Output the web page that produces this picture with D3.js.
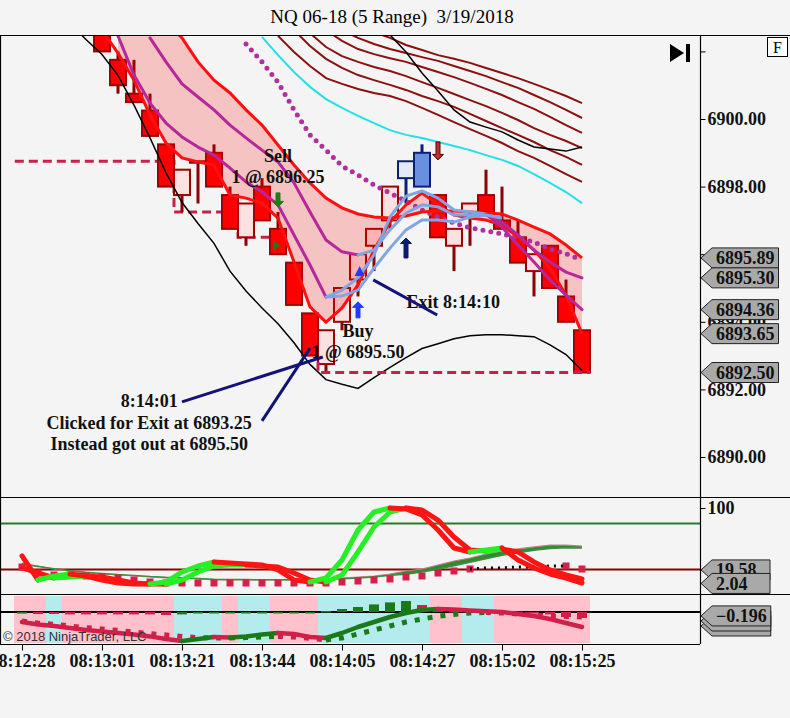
<!DOCTYPE html>
<html>
<head>
<meta charset="utf-8">
<script src="https://cdn.jsdelivr.net/npm/d3@7"></script>
<style>
  body { margin: 0; background: #f4f4f4; }
  svg { display: block; font-family: "Liberation Serif", "Times New Roman", serif; }
</style>
</head>
<body>
<svg id="chart" width="790" height="718"></svg>
<script>
// ---- data (bar index 0..35, prices in points) ----
const timeTicks = [0, 5, 10, 15, 20, 25, 30, 35];
const timeLabels = ['08:12:28', '08:13:01', '08:13:21', '08:13:44', '08:14:05', '08:14:27', '08:15:02', '08:15:25'];
const priceTicks = [6890, 6892, 6894, 6896, 6898, 6900, 6902];
const priceTickLabels = ['6890.00', '6892.00', '6894.00', '', '6898.00', '6900.00', ''];

// range bars, first visible bar is index 5
const candleStart = 5;
const opens  = [6902.75, 6901.75, 6900.75, 6900.25, 6899.25, 6897.75, 6898.75, 6899.00, 6897.75, 6896.50, 6898.00, 6896.75, 6895.75, 6894.25, 6892.75, 6894.00, 6895.25, 6896.25, 6897.00, 6898.25, 6898.00, 6897.75, 6896.25, 6897.25, 6897.75, 6897.00, 6896.50, 6895.50, 6896.25, 6894.75, 6893.75];
const highs  = [6903.25, 6902.00, 6901.75, 6900.75, 6899.25, 6898.50, 6898.75, 6899.25, 6898.00, 6897.50, 6898.25, 6897.25, 6895.75, 6894.25, 6893.75, 6895.00, 6896.00, 6896.75, 6898.00, 6898.75, 6899.25, 6897.75, 6896.75, 6897.50, 6898.50, 6898.00, 6897.00, 6896.00, 6896.25, 6895.25, 6893.75];
const lows   = [6902.00, 6900.75, 6900.50, 6899.50, 6898.00, 6897.25, 6897.50, 6898.00, 6896.75, 6896.25, 6897.00, 6896.00, 6894.50, 6893.00, 6892.50, 6893.75, 6894.75, 6895.50, 6896.75, 6897.50, 6898.00, 6896.50, 6895.50, 6896.25, 6897.25, 6896.75, 6895.75, 6894.75, 6895.00, 6894.00, 6892.50];
const closes = [6902.00, 6901.00, 6900.50, 6899.50, 6898.00, 6898.50, 6898.75, 6898.00, 6896.75, 6897.50, 6897.00, 6896.00, 6894.50, 6893.00, 6893.75, 6895.00, 6896.00, 6896.75, 6898.00, 6898.75, 6899.00, 6896.50, 6896.75, 6897.50, 6897.25, 6896.75, 6895.75, 6896.00, 6895.00, 6894.00, 6892.50];
const blueHollowBars = [24];
const blueFilledBars = [25];

// channel (red lines, pink fill)
const upperRedStart = 6;
const upperRed = [6904.5, 6903.9, 6903.4, 6902.87, 6902.40, 6901.69, 6901.15, 6900.77, 6900.27, 6899.82, 6899.23, 6898.64, 6898.11, 6897.66, 6897.37, 6897.19, 6897.10, 6897.07, 6897.13, 6897.25, 6897.28, 6897.28, 6897.25, 6897.22, 6897.19, 6897.01, 6896.80, 6896.60, 6896.27, 6895.89];
const lowerRedStart = 5;
const lowerRed = [6902.63, 6901.95, 6901.15, 6900.12, 6899.29, 6898.85, 6898.73, 6898.64, 6897.75, 6897.66, 6897.51, 6897.07, 6895.77, 6894.44, 6893.99, 6894.41, 6895.09, 6896.12, 6896.95, 6897.46, 6897.81, 6897.46, 6897.16, 6897.07, 6897.01, 6896.86, 6896.51, 6896.12, 6895.59, 6894.79, 6893.65];

// moving averages (1 = light blue segment, 0 = magenta segment)
const ma1Start = 6;
const ma1 = [6902.46, 6901.30, 6900.47, 6899.88, 6899.47, 6899.17, 6898.93, 6898.55, 6898.14, 6897.84, 6897.46, 6896.57, 6895.68, 6894.73, 6894.94, 6895.30, 6895.98, 6897.10, 6897.72, 6897.87, 6897.66, 6897.31, 6897.25, 6897.19, 6896.80, 6896.27, 6895.77, 6895.24, 6894.79, 6894.36];
const ma1Blue = [0,0,0,0,0,0,0,0,0,0,0,0,0,0, 1,1,1,1,1,1,1,1,1,1, 0,0,0,0,0,0];
const ma2Start = 8;
const ma2 = [6902.40, 6901.69, 6901.04, 6900.65, 6900.27, 6899.82, 6899.44, 6899.08, 6898.73, 6898.11, 6897.25, 6896.42, 6896.07, 6895.98, 6896.12, 6896.72, 6897.22, 6897.46, 6897.40, 6897.16, 6897.16, 6897.16, 6896.95, 6896.57, 6896.12, 6895.77, 6895.47, 6895.30];
const ma2Blue = [0,0,0,0,0,0,0,0,0,0,0,0,0,0, 1,1,1,1,1,1,1,1, 0,0,0,0,0,0];
const ma3Start = 19;
const ma3 = [6894.73, 6894.76, 6894.94, 6895.59, 6896.18, 6896.72, 6897.01, 6897.01, 6896.95, 6897.10, 6897.16, 6897.07];
const dottedStart = 14;
const dottedMa = [6902.22, 6901.69, 6901.09, 6900.27, 6899.53, 6899.08, 6898.61, 6898.34, 6898.05, 6897.81, 6897.57, 6897.31, 6897.10, 6896.92, 6896.78, 6896.69, 6896.60, 6896.48, 6896.36, 6896.15, 6896.01, 6895.83];
const cyanStart = 15;
const cyanLine = [6902.43, 6901.89, 6901.39, 6900.95, 6900.59, 6900.33, 6900.09, 6899.88, 6899.67, 6899.53, 6899.44, 6899.32, 6899.20, 6899.08, 6898.93, 6898.79, 6898.61, 6898.37, 6898.11, 6897.84, 6897.51];

// dark red envelope lines, lowest first
const envStarts = [16, 17, 18, 19, 20, 22];
const envF = [6902.46, 6901.98, 6901.57, 6901.21, 6901.04, 6900.89, 6900.77, 6900.68, 6900.53, 6900.33, 6900.12, 6899.91, 6899.70, 6899.50, 6899.29, 6899.05, 6898.85, 6898.61, 6898.37, 6898.14];
const envE = [6902.63, 6902.16, 6901.78, 6901.51, 6901.30, 6901.15, 6901.01, 6900.86, 6900.68, 6900.53, 6900.36, 6900.15, 6899.94, 6899.73, 6899.53, 6899.32, 6899.08, 6898.88, 6898.64];
const envD = [6902.54, 6902.13, 6901.86, 6901.69, 6901.54, 6901.42, 6901.27, 6901.09, 6900.92, 6900.74, 6900.56, 6900.38, 6900.18, 6899.97, 6899.73, 6899.53, 6899.35, 6899.14];
const envC = [6902.63, 6902.31, 6902.07, 6901.92, 6901.80, 6901.69, 6901.54, 6901.39, 6901.24, 6901.07, 6900.89, 6900.71, 6900.50, 6900.30, 6900.06, 6899.82, 6899.59];
const envB = [6902.63, 6902.40, 6902.22, 6902.07, 6901.95, 6901.83, 6901.72, 6901.57, 6901.42, 6901.27, 6901.09, 6900.92, 6900.71, 6900.50, 6900.27, 6900.03];
const envA = [6902.57, 6902.40, 6902.19, 6902.04, 6901.89, 6901.78, 6901.66, 6901.51, 6901.36, 6901.21, 6901.04, 6900.86, 6900.68, 6900.47];

// thin black bands
const upperBlackStart = 23;
const upperBlack = [6902.49, 6901.98, 6901.36, 6900.83, 6900.27, 6899.91, 6899.76, 6899.62, 6899.38, 6899.17, 6899.11, 6899.05, 6899.17];
const lowerBlackStart = 3;
const lowerBlack = [6902.84, 6902.35, 6901.91, 6901.29, 6900.41, 6899.44, 6898.41, 6897.53, 6896.91, 6896.32, 6895.50, 6894.91, 6894.41, 6893.94, 6893.38, 6892.74, 6892.29, 6892.15, 6892.03, 6892.35, 6892.65, 6892.94, 6893.21, 6893.35, 6893.50, 6893.59, 6893.62, 6893.62, 6893.59, 6893.56, 6893.32, 6893.03, 6892.56];

// order lines [bar, price]
const stopSteps = [[-0.45, 6898.75], [9.5, 6898.75], [9.5, 6897.25], [13.5, 6897.25], [13.5, 6896.5], [16, 6896.5]];
const exitSteps = [[18.5, 6892.82], [18.5, 6892.5], [35.5, 6892.5]];

const priceTags = [6895.89, 6895.30, 6894.36, 6893.65, 6892.50];

// stochastic panel
const stochK = [37.7, 6.5, 11.7, 14.3, 11.7, 6.5, 2.6, 1.3, 1.3, 3.9, 16.9, 24.7, 29.9, 28.6, 27.3, 26.0, 19.5, 6.5, 3.9, 9.1, 32.5, 71.4, 94.8, 100, 98.7, 90.9, 71.4, 48.1, 42.9, 45.5, 48.1, 32.5, 22.1, 14.3, 9.1, 2.6];
const stochD = [22.1, 15.6, 9.1, 10.4, 11.7, 10.4, 6.5, 2.6, 1.3, 1.3, 6.5, 16.9, 24.7, 26.0, 26.0, 24.7, 23.4, 15.6, 6.5, 3.9, 13.0, 42.9, 75.3, 94.8, 100, 97.4, 84.4, 62.3, 45.5, 44.2, 46.8, 42.9, 29.9, 19.5, 13.0, 7.8];
const ribbonA = [28.6, 24.7, 20.8, 18.2, 15.6, 14.3, 13.0, 11.7, 10.4, 9.1, 9.1, 7.8, 6.5, 6.5, 6.5, 6.5, 6.5, 6.5, 6.5, 7.8, 9.1, 10.4, 11.7, 14.3, 18.2, 20.8, 26.0, 31.2, 35.1, 40.3, 44.2, 46.8, 49.4, 51.9, 51.9, 50.6];
const ribbonB = [27.0, 24.0, 21.0, 18.5, 16.5, 15.0, 13.5, 12.5, 11.0, 10.0, 9.5, 8.5, 7.5, 7.0, 7.0, 6.8, 6.8, 6.8, 6.5, 7.0, 8.0, 9.0, 10.5, 12.5, 14.0, 17.0, 20.5, 25.0, 29.5, 34.0, 38.5, 42.0, 45.0, 47.5, 48.5, 48.0];
const stochDots = [23.4, 15.6, 13.0, 13.0, 11.7, 10.4, 9.1, 6.5, 3.9, 2.6, 2.6, 2.6, 2.6, 2.6, 2.6, 2.6, 2.6, 2.6, 2.6, 2.6, 3.9, 5.2, 6.5, 7.8, 10.4, 11.7, 15.6, 18.2, 20.8, 22.1, 22.1, 23.4, 23.4, 24.7, 24.7, 20.8];
const blackDotBars = [29, 30, 31, 32, 33];
const stochLevels = [80, 20];
const stochTags = [19.58, 2.04];

// macd panel
const macd = [-0.50, -0.62, -0.70, -0.80, -0.90, -0.98, -1.05, -1.12, -1.22, -1.35, -1.45, -1.35, -1.25, -1.28, -1.22, -1.12, -1.05, -1.10, -1.25, -1.30, -1.05, -0.75, -0.50, -0.25, -0.05, 0.10, 0.15, 0.12, 0.08, 0.04, 0.00, -0.10, -0.20, -0.35, -0.55, -0.75];
const signal = [-0.45, -0.55, -0.62, -0.70, -0.78, -0.85, -0.92, -1.00, -1.08, -1.15, -1.22, -1.28, -1.30, -1.30, -1.28, -1.25, -1.22, -1.25, -1.32, -1.40, -1.30, -1.10, -0.90, -0.70, -0.50, -0.35, -0.22, -0.12, -0.05, -0.02, -0.05, -0.10, -0.15, -0.20, -0.22, -0.25];
const hist = [-0.08, -0.10, -0.10, -0.12, -0.12, -0.12, -0.12, -0.12, -0.12, -0.15, -0.12, -0.05, -0.05, -0.05, -0.05, -0.05, -0.05, -0.05, -0.05, 0.05, 0.15, 0.25, 0.38, 0.48, 0.55, 0.35, 0.10, 0.05, 0.05, 0.03, 0.03, 0.02, -0.05, -0.12, -0.25, -0.30];
const bgCyan = [0,0,1, 0,0,0,0,0,0,0, 1,1,1, 0, 1,1, 0,0,0, 1,1,1,1,1,1,1, 0,0, 1,1, 0,0,0,0,0,0];
const macdTags = [-0.70, -0.45, -0.196];

// ---- layout ----
const svg = d3.select('#chart');
const AX = 700;
const mainTop = 35, mainBottom = 497, p2Bottom = 594, p3Bottom = 644;

const x = d3.scaleLinear().domain([0, 35]).range([22, 582]);
const y = d3.scaleLinear().domain([6890, 6900]).range([457, 119]);
const y2 = d3.scaleLinear().domain([0, 100]).range([585, 508]);
const y3 = d3.scaleLinear().domain([-1, 0]).range([632, 612]);

const pts = (start, arr) => arr.map((v, k) => ({ i: start + k, v }));
const lineOf = ys => d3.line().x(d => x(d.i)).y(d => ys(d.v));

const defs = svg.append('defs');
[['clipMain', mainTop + 1, mainBottom], ['clipP2', mainBottom + 1, p2Bottom], ['clipP3', p2Bottom + 1, p3Bottom]]
  .forEach(([id, t, b]) => defs.append('clipPath').attr('id', id)
    .append('rect').attr('x', 1).attr('y', t).attr('width', AX - 1).attr('height', b - t));

// title (two spaces before the date, as in the original)
svg.append('text').attr('x', 392).attr('y', 23).attr('text-anchor', 'middle')
  .attr('font-size', 19).text('NQ 06-18 (5 Range) \u00a03/19/2018');

// colour runs: colours[k] belongs to segment k-1 -> k
function colorRuns(data, colours) {
  const runs = [];
  for (let k = 1; k < data.length; k++) {
    const last = runs[runs.length - 1];
    if (last && last.color === colours[k]) last.pts.push(data[k]);
    else runs.push({ color: colours[k], pts: [data[k - 1], data[k]] });
  }
  return runs;
}
function slopeColours(vals, up, down) {
  const out = [up];
  for (let k = 1; k < vals.length; k++) {
    out.push(vals[k] > vals[k - 1] ? up : vals[k] < vals[k - 1] ? down : out[k - 1]);
  }
  return out;
}
function drawRuns(g, runs, ys, width, dash, cap) {
  runs.forEach(r => {
    g.append('path').attr('d', lineOf(ys)(r.pts))
      .attr('fill', 'none').attr('stroke', r.color).attr('stroke-width', width)
      .attr('stroke-linecap', cap || 'round').attr('stroke-linejoin', 'round')
      .attr('stroke-dasharray', dash || null);
  });
}

// ---- main price panel ----
const main = svg.append('g').attr('clip-path', 'url(#clipMain)');
const stepLine = d3.line().x(d => x(d[0])).y(d => y(d[1]));

main.append('path').attr('d', stepLine(stopSteps)).attr('fill', 'none')
  .attr('stroke', '#c8204a').attr('stroke-width', 3).attr('stroke-dasharray', '9,5');

// candles
const candles = opens.map((o, k) => ({ i: candleStart + k, o, h: highs[k], l: lows[k], c: closes[k] }));
candles.forEach(d => {
  const blueH = blueHollowBars.includes(d.i), blueF = blueFilledBars.includes(d.i);
  const blue = blueH || blueF;
  const up = d.c >= d.o;
  const edge = blue ? '#0b1f7a' : '#a00000';
  main.append('line').attr('x1', x(d.i)).attr('x2', x(d.i)).attr('y1', y(d.h)).attr('y2', y(d.l))
    .attr('stroke', blue ? '#0b1f7a' : '#8b0000').attr('stroke-width', 3);
  const top = y(Math.max(d.o, d.c)), bot = y(Math.min(d.o, d.c));
  main.append('rect').attr('x', x(d.i) - 8).attr('width', 16)
    .attr('y', top).attr('height', Math.max(bot - top, 1.5))
    .attr('fill', blueF ? '#6b8fe0' : blueH ? '#e3eaf6' : up ? '#fde0e0' : '#ff0000')
    .attr('stroke', edge).attr('stroke-width', 2);
});

// pink channel fill
const fillData = upperRed.map((u, k) => {
  const i = upperRedStart + k;
  return { i, u, l: lowerRed[i - lowerRedStart] };
});
main.append('path')
  .attr('d', d3.area().x(d => x(d.i)).y0(d => y(d.l)).y1(d => y(d.u))(fillData))
  .attr('fill', '#ff0000').attr('fill-opacity', 0.2);

// envelope lines
[envF, envE, envD, envC, envB, envA].forEach((arr, k) => {
  main.append('path').attr('d', lineOf(y)(pts(envStarts[k], arr)))
    .attr('fill', 'none').attr('stroke', '#8b1010').attr('stroke-width', 2);
});
main.append('path').attr('d', lineOf(y)(pts(cyanStart, cyanLine)))
  .attr('fill', 'none').attr('stroke', '#22e0e6').attr('stroke-width', 2);
main.append('path').attr('d', lineOf(y)(pts(upperBlackStart, upperBlack)))
  .attr('fill', 'none').attr('stroke', '#000').attr('stroke-width', 1.5);
main.append('path').attr('d', lineOf(y)(pts(lowerBlackStart, lowerBlack)))
  .attr('fill', 'none').attr('stroke', '#000').attr('stroke-width', 1.5);

// dotted ma
main.append('path').attr('d', lineOf(y)(pts(dottedStart, dottedMa)))
  .attr('fill', 'none').attr('stroke', '#b0309c').attr('stroke-width', 5)
  .attr('stroke-linecap', 'round').attr('stroke-dasharray', '0,8');

// channel lines
[[upperRedStart, upperRed], [lowerRedStart, lowerRed]].forEach(([s, arr]) => {
  main.append('path').attr('d', lineOf(y)(pts(s, arr)))
    .attr('fill', 'none').attr('stroke', '#ff1010').attr('stroke-width', 3);
});

// moving averages
const MAG = '#b5279b', LBLUE = '#7fa6e2';
drawRuns(main, colorRuns(pts(ma2Start, ma2), ma2Blue.map(f => f ? LBLUE : MAG)), y, 3);
drawRuns(main, colorRuns(pts(ma1Start, ma1), ma1Blue.map(f => f ? LBLUE : MAG)), y, 3);
main.append('path').attr('d', lineOf(y)(pts(ma3Start, ma3)))
  .attr('fill', 'none').attr('stroke', LBLUE).attr('stroke-width', 3);

main.append('path').attr('d', stepLine(exitSteps)).attr('fill', 'none')
  .attr('stroke', '#c8204a').attr('stroke-width', 3).attr('stroke-dasharray', '9,5');

// arrows
function arrowPath(cx, tip, dir, len, head, shaft) {
  const s = dir; // -1 up (tip on top), 1 down
  const b = tip - s * head, e = tip - s * len;
  return `M${cx},${tip}L${cx + head},${b}L${cx + shaft},${b}L${cx + shaft},${e}L${cx - shaft},${e}L${cx - shaft},${b}L${cx - head},${b}Z`;
}
const arrows = [
  { bar: 16, price: 6897.40, dir: 1, len: 14, fill: '#1e7b1e', edge: '#1e7b1e' },
  { bar: 21, price: 6894.59, dir: -1, len: 16, fill: '#1f3cff', edge: '#1f3cff' },
  { bar: 24, price: 6896.48, dir: -1, len: 20, fill: '#0a1a6e', edge: '#0a1a6e' },
  { bar: 26, price: 6898.79, dir: 1, len: 18, fill: '#b83030', edge: '#5a0000' }
];
arrows.forEach(a => {
  main.append('path').attr('d', arrowPath(x(a.bar), y(a.price), a.dir, a.len, 5.5, 2))
    .attr('fill', a.fill).attr('stroke', a.edge).attr('stroke-width', 1);
});
// fill markers
main.append('path')
  .attr('d', `M${x(15.7)},${y(6896.25) - 5}L${x(15.7) + 7},${y(6896.25)}L${x(15.7)},${y(6896.25) + 5}Z`)
  .attr('fill', '#1e7b1e');
main.append('path')
  .attr('d', `M${x(21.1) - 5},${y(6895.5) + 5}L${x(21.1)},${y(6895.5) - 5}L${x(21.1) + 5},${y(6895.5) + 5}Z`)
  .attr('fill', '#1f3cff');

// annotations
const notes = [
  ['Sell', 16, 6898.73], ['1 @ 6896.25', 16, 6898.11],
  ['Buy', 21, 6893.55], ['1 @ 6895.50', 21, 6892.93],
  ['Exit 8:14:10', 26.95, 6894.41],
  ['8:14:01', 7.95, 6891.48], ['Clicked for Exit at 6893.25', 7.95, 6890.83], ['Instead got out at 6895.50', 7.95, 6890.21]
];
notes.forEach(([t, b, p]) => {
  main.append('text').attr('x', x(b)).attr('y', y(p)).attr('text-anchor', 'middle')
    .attr('font-size', 18).attr('font-weight', 'bold').attr('fill', '#111').text(t);
});
const pointers = [[[10, 6891.63], [18.8, 6892.96]], [[15, 6891.07], [18, 6893.22]], [[21.95, 6895.24], [25.95, 6894.20]]];
pointers.forEach(seg => {
  main.append('path').attr('d', stepLine(seg)).attr('stroke', '#12127a').attr('stroke-width', 3);
});

// ---- stochastic panel ----
const p2 = svg.append('g').attr('clip-path', 'url(#clipP2)');
stochLevels.forEach((lv, k) => {
  p2.append('line').attr('x1', 1).attr('x2', AX).attr('y1', y2(lv)).attr('y2', y2(lv))
    .attr('stroke', k === 0 ? '#2a7a2a' : '#8b0000').attr('stroke-width', 2);
});
const ribbon = ribbonA.map((a, i) => ({ i, a, b: ribbonB[i] }));
p2.append('path').attr('d', d3.area().x(d => x(d.i)).y0(d => y2(d.b)).y1(d => y2(d.a))(ribbon))
  .attr('fill', '#2f8a36');
p2.append('path').attr('d', lineOf(y2)(pts(0, ribbonA))).attr('fill', 'none').attr('stroke', '#c08080').attr('stroke-width', 1.2);
p2.append('path').attr('d', lineOf(y2)(pts(0, ribbonB))).attr('fill', 'none').attr('stroke', '#3f8f3f').attr('stroke-width', 1.5);

stochDots.forEach((v, i) => {
  if (blackDotBars.includes(i)) return;
  p2.append('rect').attr('x', x(i) - 3.5).attr('y', y2(v) - 3.5).attr('width', 7).attr('height', 7).attr('fill', '#d6204c');
});
p2.append('path')
  .attr('d', lineOf(y2)(pts(0, stochDots).filter(d => d.i >= blackDotBars[0] - 1 && d.i <= blackDotBars[blackDotBars.length - 1] + 1)))
  .attr('fill', 'none').attr('stroke', '#000').attr('stroke-width', 3).attr('stroke-dasharray', '2,5');

[stochD, stochK].forEach(arr => {
  drawRuns(p2, colorRuns(pts(0, arr), slopeColours(arr, '#25f025', '#ff1414')), y2, 5);
});

// ---- macd panel ----
const p3 = svg.append('g').attr('clip-path', 'url(#clipP3)');
bgCyan.forEach((f, i) => {
  p3.append('rect').attr('x', x(i) - 8).attr('width', 16).attr('y', p2Bottom + 2).attr('height', p3Bottom - p2Bottom - 3)
    .attr('fill', f ? '#b4ecee' : '#ffc2cc');
});
p3.append('line').attr('x1', 1).attr('x2', AX).attr('y1', y3(0)).attr('y2', y3(0)).attr('stroke', '#000').attr('stroke-width', 2);
const histCol = slopeColours(hist, '#1a7a1a', '#d0204a');
hist.forEach((v, i) => {
  p3.append('rect').attr('x', x(i) - 5).attr('width', 10)
    .attr('y', Math.min(y3(v), y3(0))).attr('height', Math.max(Math.abs(y3(v) - y3(0)), 1.5))
    .attr('fill', histCol[i]);
});
drawRuns(p3, colorRuns(pts(0, signal), slopeColours(signal, '#1a7a1a', '#d0204a')), y3, 5, '5,8', 'butt');
drawRuns(p3, colorRuns(pts(0, macd), slopeColours(macd, '#1a7a1a', '#d0204a')), y3, 4.5);

// ---- frames ----
const frame = svg.append('g').attr('stroke', '#000').attr('stroke-width', 1.2);
frame.append('line').attr('x1', 0).attr('x2', 790).attr('y1', mainTop + 0.5).attr('y2', mainTop + 0.5);
frame.append('line').attr('x1', 0).attr('x2', 790).attr('y1', mainBottom + 0.5).attr('y2', mainBottom + 0.5);
frame.append('line').attr('x1', 0).attr('x2', 790).attr('y1', p2Bottom + 0.5).attr('y2', p2Bottom + 0.5);
frame.append('line').attr('x1', 0).attr('x2', AX).attr('y1', p3Bottom + 0.5).attr('y2', p3Bottom + 0.5);
frame.append('line').attr('x1', 0.5).attr('x2', 0.5).attr('y1', mainTop).attr('y2', p3Bottom);
frame.append('line').attr('x1', AX + 0.5).attr('x2', AX + 0.5).attr('y1', mainTop).attr('y2', p3Bottom);

// ---- axes ----
function styleAxis(g) {
  g.select('.domain').remove();
  g.attr('font-family', '"Liberation Serif", "Times New Roman", serif').attr('font-size', 18).attr('font-weight', 'bold');
  g.selectAll('text').attr('fill', '#111');
}
svg.append('g').attr('transform', `translate(${AX + 0.5},0)`)
  .call(d3.axisRight(y).tickValues(priceTicks).tickFormat((d, k) => priceTickLabels[k]).tickSize(5).tickPadding(2))
  .call(styleAxis);
svg.append('g').attr('transform', `translate(${AX + 0.5},0)`)
  .call(d3.axisRight(y2).tickValues([100]).tickFormat(d3.format('d')).tickSize(5).tickPadding(2))
  .call(styleAxis);
svg.append('g').attr('transform', `translate(0,${p3Bottom + 0.5})`)
  .call(d3.axisBottom(x).tickValues(timeTicks).tickFormat((d, k) => timeLabels[k]).tickSize(6).tickPadding(4))
  .call(styleAxis);

// ---- value tags ----
function drawTags(values, ys, fmt, textAll) {
  values.forEach((v, k) => {
    const cy = ys(v);
    const g = svg.append('g');
    const path = g.append('path');
    const show = textAll || k === values.length - 1;
    const t = g.append('text').attr('x', AX + 16).attr('y', cy).attr('dy', '0.35em')
      .attr('font-size', 18).attr('font-weight', 'bold').attr('fill', '#111').text(fmt(v));
    const w = Math.max(t.node().getComputedTextLength(), 50);
    if (!show) t.remove();
    path.attr('d', `M${AX + 1},${cy}L${AX + 12},${cy - 10}H${AX + 20 + w}V${cy + 10}H${AX + 12}Z`)
      .attr('fill', '#a9a9a9').attr('stroke', '#222').attr('stroke-width', 1);
  });
}
drawTags(priceTags, y, d3.format('.2f'), true);
drawTags(stochTags, y2, d3.format('.2f'), true);
drawTags(macdTags, y3, d3.format('.3f'), false);

// ---- chart furniture ----
svg.append('path').attr('d', 'M670,44L670,62L684,53Z').attr('fill', '#000');
svg.append('rect').attr('x', 686).attr('y', 44).attr('width', 4).attr('height', 18).attr('fill', '#000');
svg.append('rect').attr('x', 767.5).attr('y', 37.5).attr('width', 20).attr('height', 19).attr('fill', '#fff').attr('stroke', '#000');
svg.append('text').attr('x', 777.5).attr('y', 53).attr('text-anchor', 'middle').attr('font-size', 16).text('F');
svg.append('text').attr('x', 3).attr('y', 641).attr('font-family', '"Liberation Sans", Arial, sans-serif')
  .attr('font-size', 13).attr('fill', '#333').text('© 2018 NinjaTrader, LLC');
</script>
</body>
</html>
